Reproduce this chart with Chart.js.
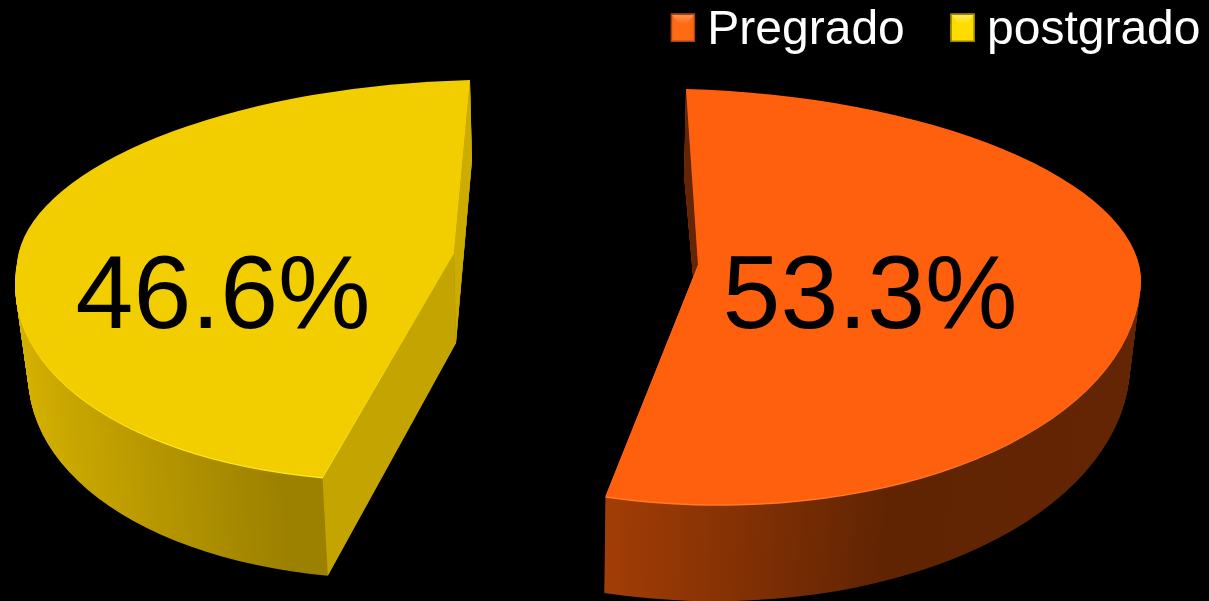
<!DOCTYPE html>
<html>
<head>
<meta charset="utf-8">
<title>Pregrado / postgrado</title>
<script src="https://cdn.jsdelivr.net/npm/chart.js@4"></script>
<style>
  html, body { margin: 0; padding: 0; background: #000; overflow: hidden; }
  canvas { display: block; }
</style>
</head>
<body>
<canvas id="pieChart" width="1209" height="601"></canvas>
<script>
const categories = ['Pregrado', 'postgrado'];
const shares = [53.3, 46.6];
const shareLabels = ['53.3%', '46.6%'];

const topColors = ['#FF600E', '#F2CD00'];
const rimColors = ['#FF7A22', '#FFE81A'];
const swatchColors = ['#FF6A14', '#FFDC00'];
const bevelColors = ['#FF9A5C', '#FFF06A'];
const frameColors = ['#A8420E', '#9A8400'];
const wallStops = [
    [[0, '#A33D06'], [0.395, '#A33D06'], [0.715, '#612403'], [1, '#632503']],
    [[0, '#D6B200'], [0.35, '#9C8000'], [1, '#9C8000']]
];
// inner wall colours for the [start, end] radial edge, null when hidden
const edgeColors = [['#632503', null], ['#C4A400', '#CCAC00']];
// the pie is tilted: upper and lower half of each slice get their own ellipse
const topFaces = [
    { cx: 698, cy: 265, rx: 443, ryU: 176, ryL: 239, kU: 12, kL: 0, m: 12 },
    { cx: 454, cy: 253, rx: 437, ryU: 173, ryL: 227, kU: -16, kL: -41, m: -10 }
];
const bottomFaces = [
    { cx: 700, cy: 355, rx: 430, ryU: 180, ryL: 246, kU: 16, kL: -6, m: 12 },
    { cx: 456, cy: 343, rx: 426, ryU: 183, ryL: 236, kU: -16, kL: -40, m: -10 }
];
const labelSpots = [[870, 328], [223, 328]];

function mixFace(a, b, t) {
    const out = {};
    Object.keys(a).forEach(k => { out[k] = a[k] + (b[k] - a[k]) * t; });
    return out;
}

function drawHalf(ctx, arc, face, upper, fill, grow) {
    const R = arc.outerRadius;
    const ry = (upper ? face.ryU : face.ryL) + (grow || 0);
    const k = upper ? face.kU : face.kL;
    const a = face.rx / R, b = face.m / R, c = k / R, d = ry / R;
    ctx.save();
    ctx.transform(a, b, c, d, face.cx - a * arc.x - c * arc.y, face.cy - b * arc.x - d * arc.y);
    ctx.beginPath();
    if (upper) ctx.rect(arc.x - R - 5, arc.y - R - 5, 2 * R + 10, R + 5.5);
    else ctx.rect(arc.x - R - 5, arc.y - 0.5, 2 * R + 10, R + 5.5);
    ctx.clip();
    const saved = arc.options;
    arc.options = Object.assign({}, saved, { backgroundColor: fill, borderWidth: 0 });
    arc.draw(ctx);
    arc.options = saved;
    ctx.restore();
}

function edgePoint(face, angle) {
    const ux = Math.cos(angle), uy = Math.sin(angle);
    const upper = uy < 0;
    return [
        face.cx + face.rx * ux + (upper ? face.kU : face.kL) * uy,
        face.cy + (upper ? face.ryU : face.ryL) * uy + face.m * ux
    ];
}

const pie3d = {
    id: 'pie3d',
    beforeDatasetsDraw(chart) {
        const ctx = chart.ctx;
        const arcs = chart.getDatasetMeta(0).data;
        arcs.forEach((arc, i) => {
            const top = topFaces[i], bottom = bottomFaces[i];
            const R = arc.outerRadius;

            // outer wall
            const grad = ctx.createLinearGradient(arc.x - R, 0, arc.x + R, 0);
            wallStops[i].forEach(s => grad.addColorStop(s[0], s[1]));
            for (let n = 120; n > 0; n--) {
                const face = mixFace(top, bottom, n / 120);
                drawHalf(ctx, arc, face, true, grad);
                drawHalf(ctx, arc, face, false, grad);
            }

            // inner walls along the cut edges
            [arc.startAngle, arc.endAngle].forEach((angle, e) => {
                if (!edgeColors[i][e]) return;
                const p = [
                    [top.cx, top.cy], edgePoint(top, angle),
                    edgePoint(bottom, angle), [bottom.cx, bottom.cy]
                ];
                ctx.beginPath();
                ctx.moveTo(p[0][0], p[0][1]);
                p.slice(1).forEach(q => ctx.lineTo(q[0], q[1]));
                ctx.closePath();
                ctx.fillStyle = edgeColors[i][e];
                ctx.fill();
            });

            // top face with its thin light rim
            drawHalf(ctx, arc, top, false, rimColors[i], 1.5);
            drawHalf(ctx, arc, top, true, topColors[i]);
            drawHalf(ctx, arc, top, false, topColors[i]);
        });

        ctx.save();
        ctx.fillStyle = '#000';
        ctx.font = '104px "Liberation Sans", Arial, sans-serif';
        ctx.textAlign = 'center';
        ctx.textBaseline = 'alphabetic';
        shareLabels.forEach((txt, i) => {
            ctx.fillText(txt, labelSpots[i][0], labelSpots[i][1]);
        });
        ctx.restore();
        return false;
    },
    afterDraw(chart) {
        // legend swatches are bevelled in the original
        const ctx = chart.ctx;
        chart.legend.legendHitBoxes.forEach((box, i) => {
            const w = 24, h = 28, x = box.left, y = box.top + (box.height - h) / 2 - 3;
            ctx.save();
            ctx.fillStyle = swatchColors[i];
            ctx.fillRect(x, y, w, h);
            const bevel = ctx.createLinearGradient(0, y, 0, y + 10);
            bevel.addColorStop(0, bevelColors[i]);
            bevel.addColorStop(1, swatchColors[i]);
            ctx.fillStyle = bevel;
            ctx.beginPath();
            ctx.moveTo(x, y);
            ctx.lineTo(x + w, y);
            ctx.lineTo(x + w / 2 + 3, y + 11);
            ctx.lineTo(x + w / 2 - 3, y + 11);
            ctx.closePath();
            ctx.fill();
            ctx.strokeStyle = frameColors[i];
            ctx.lineWidth = 1.5;
            ctx.strokeRect(x + 0.5, y + 0.5, w - 1, h - 1);
            ctx.restore();
        });
    }
};

new Chart(document.getElementById('pieChart').getContext('2d'), {
    type: 'pie',
    data: {
        labels: categories,
        datasets: [{ data: shares, backgroundColor: topColors, borderWidth: 0 }]
    },
    options: {
        responsive: false,
        animation: false,
        rotation: 0,
        layout: { padding: { top: -39, right: -37.3 } },
        plugins: {
            tooltip: { enabled: false },
            legend: {
                position: 'top',
                align: 'end',
                labels: {
                    color: '#fff',
                    boxWidth: 12.4,
                    boxHeight: 13,
                    padding: 45.8,
                    font: { family: '"Liberation Sans", Arial, sans-serif', size: 48 }
                }
            }
        }
    },
    plugins: [pie3d]
});
</script>
</body>
</html>
